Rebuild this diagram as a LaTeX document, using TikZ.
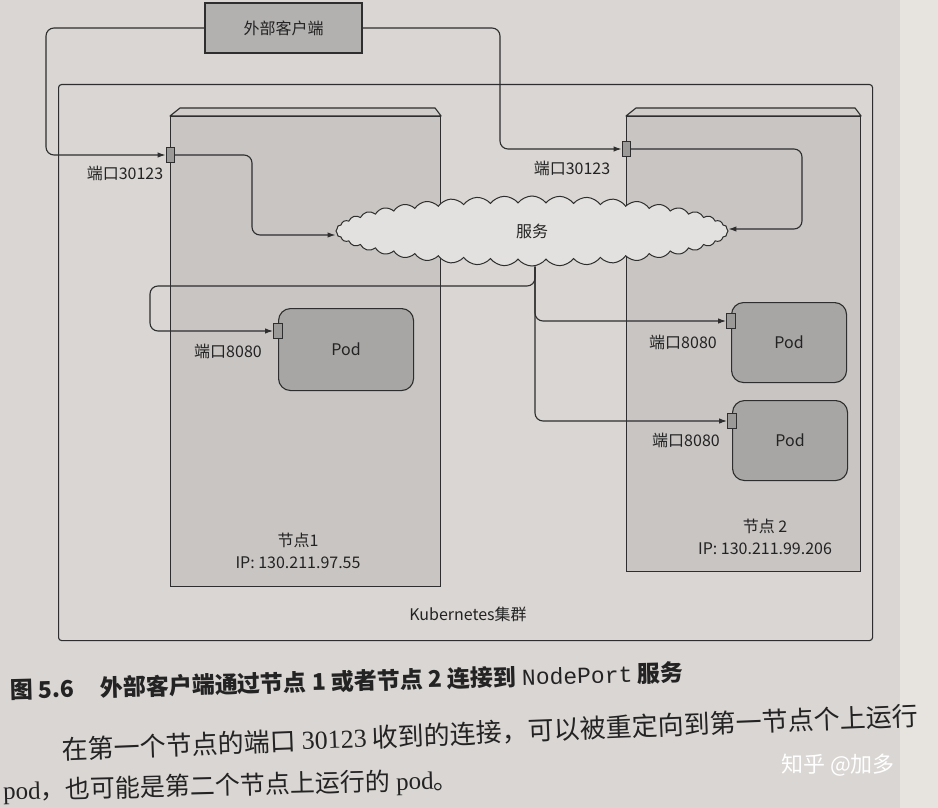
\documentclass[tikz,border=0pt]{standalone}
\usepackage{fontspec}
\setmainfont{Noto Sans CJK SC}
\newfontfamily\serifl{Liberation Serif}
\newfontfamily\monol{Liberation Mono}
\usetikzlibrary{arrows.meta,shapes.symbols,calc}
\definecolor{pagebg}{HTML}{D9D6D3}
\definecolor{pageedge}{HTML}{E7E4DF}
\definecolor{nodefill}{HTML}{C8C5C3}
\definecolor{bevelfill}{HTML}{D0CDCB}
\definecolor{podfill}{HTML}{A8A6A5}
\definecolor{clientfill}{HTML}{B3B1B0}
\definecolor{cloudfill}{HTML}{E3E1DF}
\definecolor{portfill}{HTML}{9C9A99}
\definecolor{line}{HTML}{2E2E2E}
\definecolor{ink}{HTML}{232323}
\begin{document}
\begin{tikzpicture}[x=1pt,y=-1pt,
  lbl/.style={font=\fontsize{16}{22}\selectfont, text=ink, inner sep=0},
  conn/.style={draw=line, line width=1.1pt, rounded corners=8pt},
  arr/.style={-{Latex[length=8pt,width=5.5pt]}},
  nodebox/.style={draw=line, line width=1.1pt, fill=nodefill, anchor=north west, inner sep=0},
  bevel/.style={draw=line, line width=1.1pt, fill=bevelfill, line join=round},
  podbox/.style={draw=line, line width=1.1pt, fill=podfill, rounded corners=12pt, anchor=north west, inner sep=0, font=\fontsize{16}{18}\selectfont, text=ink},
  portbox/.style={draw=line, line width=0.9pt, fill=portfill, minimum width=8pt, minimum height=15pt, inner sep=0},
]
\useasboundingbox (0,0) rectangle (938,808);
\fill[pagebg] (0,0) rectangle (938,808);
\fill[pageedge] (900,0) rectangle (938,808);

% cluster
\node[draw=line, line width=1.1pt, anchor=north west, minimum width=814pt, minimum height=556pt, inner sep=0, rounded corners=3pt] (cluster) at (58,84) {};
\node[lbl] (clusterlbl) at (468,614) {Kubernetes集群};

% nodes
\node[nodebox, minimum width=270pt, minimum height=470pt] (n1) at (170,116) {};
\path[bevel] (n1.north west) -- ($(n1.north west)+(10,-8)$) -- ($(n1.north east)+(-6,-8)$) -- (n1.north east) -- cycle;
\node[nodebox, minimum width=234pt, minimum height=455pt] (n2) at (626,116) {};
\path[bevel] (n2.north west) -- ($(n2.north west)+(10,-8)$) -- ($(n2.north east)+(-6,-8)$) -- (n2.north east) -- cycle;
\node[lbl, align=center] (n1lbl) at (298,551) {节点1\\IP: 130.211.97.55};
\node[lbl, align=center] (n2lbl) at (765,537) {节点 2\\IP: 130.211.99.206};

% client
\node[draw=line, line width=1.1pt, fill=clientfill, minimum width=157pt, minimum height=50pt, inner sep=0, font=\fontsize{16}{18}\selectfont, text=ink] (client) at (283.5,28) {外部客户端};

% service cloud
\node[cloud, cloud puffs=44, cloud puff arc=105, cloud ignores aspect, minimum width=392pt, minimum height=70pt, draw=line, line width=1pt, fill=cloudfill, inner sep=0, font=\fontsize{16}{18}\selectfont, text=ink] (svc) at (532,231) {服务};

% pods
\node[podbox, minimum width=135pt, minimum height=82pt] (pod1) at (278,308) {Pod};
\node[podbox, minimum width=115pt, minimum height=80pt] (pod2a) at (731,302) {Pod};
\node[podbox, minimum width=115pt, minimum height=80pt] (pod2b) at (732,400) {Pod};

% ports
\node[portbox] (port1) at (170,155) {};
\node[portbox] (port2) at (626,149) {};
\node[portbox, minimum width=9pt] (pp1) at (278,331) {};
\node[portbox, minimum width=9pt] (pp2a) at (731,321) {};
\node[portbox, minimum width=9pt] (pp2b) at (732,421) {};

\node[lbl] (port1lbl) at (125,173) {端口30123};
\node[lbl] (port2lbl) at (572,168) {端口30123};
\node[lbl] (pp1lbl) at (228,351) {端口8080};
\node[lbl] (pp2albl) at (683,342) {端口8080};
\node[lbl] (pp2blbl) at (686,440) {端口8080};

% waypoints
\coordinate (cA) at (46,155);
\coordinate (cB) at (252,235);
\coordinate (cC) at (500,149);
\coordinate (cD) at (802,229);
\coordinate (sb) at ([xshift=3pt]svc.south);
\coordinate (cE) at (150,286);

% connectors
\draw[conn, arr] (client.west) -| (cA) -- (port1.west);
\draw[conn, arr] (port1.east) -| (cB) -- (svc.west |- cB);
\draw[conn, arr] (client.east) -| (cC) -- (port2.west);
\draw[conn, arr] (port2.east) -| (cD) -- (svc.east |- cD);
\draw[conn, arr] (sb) |- (cE) |- (pp1.west);
\draw[conn, arr] (sb) |- (pp2a.west);
\draw[conn, arr] (sb) |- (pp2b.west);

% caption and text
\node[anchor=west, rotate=1.5, inner sep=0, text=ink, font=\bfseries\fontsize{23}{25}\selectfont] (caption) at (10,690) {图 5.6\hspace{1.1em}外部客户端通过节点 1 或者节点 2 连接到 {\mdseries\monol NodePort} 服务};
\node[anchor=west, rotate=2.3, inner sep=0, text=ink, font=\fontsize{26}{28}\selectfont] (para1) at (62,750) {在第一个节点的端口 {\serifl 30123} 收到的连接，可以被重定向到第一节点个上运行};
\node[anchor=west, rotate=1.4, inner sep=0, text=ink, font=\fontsize{25}{27}\selectfont] (para2) at (3,792) {{\serifl pod}，也可能是第二个节点上运行的 {\serifl pod}。};
\node[text=white, font=\fontsize{22}{24}\selectfont, inner sep=0] (wm) at (838,765) {知乎 @加多};
\end{tikzpicture}
\end{document}
